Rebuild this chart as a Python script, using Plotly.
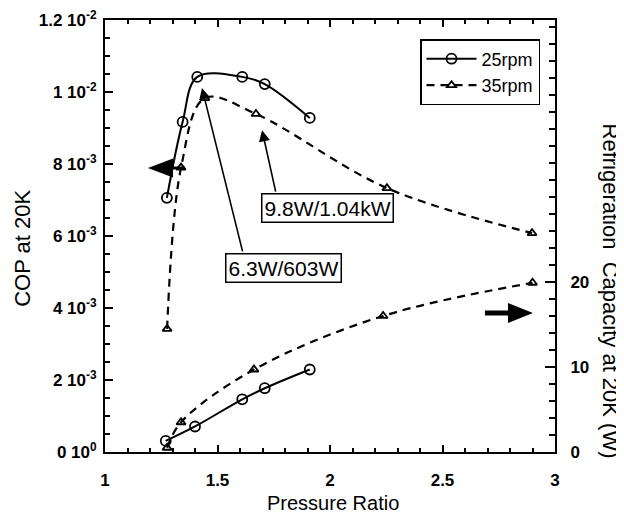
import plotly.graph_objects as go

# ---- data ----
pr_25_cop = [1.275, 1.345, 1.41, 1.61, 1.71, 1.91]
cop_25 = [7.06e-3, 9.17e-3, 1.042e-2, 1.042e-2, 1.022e-2, 9.28e-3]

pr_35_cop = [1.276, 1.338, 1.444, 1.671, 2.253, 2.898]
cop_35 = [3.42e-3, 7.9e-3, 9.83e-3, 9.39e-3, 7.33e-3, 6.08e-3]

pr_25_cap = [1.27, 1.40, 1.61, 1.71, 1.91]
cap_25 = [1.3, 3.0, 6.2, 7.5, 9.7]

pr_35_cap = [1.276, 1.338, 1.662, 2.236, 2.90]
cap_35 = [0.5, 3.5, 9.7, 16.0, 19.9]

cop_tickvals = [0, 2e-3, 4e-3, 6e-3, 8e-3, 1e-2, 1.2e-2]
cop_ticktext = ["0 10<sup>0</sup>", "2 10<sup>-3</sup>", "4 10<sup>-3</sup>", "6 10<sup>-3</sup>",
                "8 10<sup>-3</sup>", "1 10<sup>-2</sup>", "1.2 10<sup>-2</sup>"]
cap_tickvals = [0, 10, 20]
x_tickvals = [1, 1.5, 2, 2.5, 3]
x_ticktext = ["1", "1.5", "2", "2.5", "3"]

FONT = "Liberation Sans"
BLACK = "black"

fig = go.Figure()

solid = dict(color=BLACK, width=2, shape="spline", smoothing=1.0)
dashed = dict(color=BLACK, width=2.2, shape="spline", smoothing=1.0, dash="8px,6px")
circ = dict(symbol="circle-open", size=10, color=BLACK, line=dict(width=1.8, color=BLACK))
tri = dict(symbol="triangle-up-open", size=8, color=BLACK, line=dict(width=1.8, color=BLACK))

fig.add_trace(go.Scatter(x=pr_25_cop, y=cop_25, mode="lines+markers", name="25rpm",
                         line=solid, marker=circ))
fig.add_trace(go.Scatter(x=pr_35_cop, y=cop_35, mode="lines+markers", name="35rpm",
                         line=dashed, marker=tri))
fig.add_trace(go.Scatter(x=pr_25_cap, y=cap_25, mode="lines+markers", name="25rpm",
                         line=solid, marker=circ, yaxis="y2", showlegend=False))
fig.add_trace(go.Scatter(x=pr_35_cap, y=cap_35, mode="lines+markers", name="35rpm",
                         line=dashed, marker=tri, yaxis="y2", showlegend=False))

tickfont = dict(family=FONT, size=17, color=BLACK, weight="bold")

# the page body adds an 8px offset; the figure is sized so the plot lands where the reference has it
fig.update_layout(
    width=616, height=506,
    margin=dict(l=97, r=69, t=12, b=62),
    paper_bgcolor="white", plot_bgcolor="white",
    showlegend=True,
    legend=dict(x=0.70, y=0.956, xanchor="left", yanchor="top",
                bordercolor=BLACK, borderwidth=1.5, bgcolor="white",
                font=dict(family=FONT, size=18, color=BLACK),
                itemwidth=50, tracegroupgap=0),
    xaxis=dict(range=[1, 3], tickvals=x_tickvals, ticktext=x_ticktext,
               ticks="inside", ticklen=7, tickwidth=1.5, tickcolor=BLACK,
               minor=dict(dtick=0.1, ticks="inside", ticklen=4, tickwidth=1.5, tickcolor=BLACK),
               showline=True, linecolor=BLACK, linewidth=2, mirror="ticks",
               showgrid=False, zeroline=False, tickfont=tickfont, ticklabelstandoff=12,
               automargin=False, ticklabeloverflow="allow"),
    yaxis=dict(range=[0, 0.012], tickvals=cop_tickvals, ticktext=cop_ticktext,
               ticks="inside", ticklen=8, tickwidth=1.5, tickcolor=BLACK,
               minor=dict(dtick=0.5e-3, tick0=0, ticks="inside", ticklen=5, tickwidth=1.5, tickcolor=BLACK),
               showline=True, linecolor=BLACK, linewidth=2,
               showgrid=False, zeroline=False, tickfont=tickfont, ticklabelstandoff=3,
               automargin=False, ticklabeloverflow="allow"),
    yaxis2=dict(range=[0, 50.8], overlaying="y", side="right", tickvals=cap_tickvals,
                ticks="inside", ticklen=10, tickwidth=1.5, tickcolor=BLACK,
                minor=dict(dtick=2, tick0=0, ticks="inside", ticklen=6, tickwidth=1.5, tickcolor=BLACK),
                showline=True, linecolor=BLACK, linewidth=2,
                showgrid=False, zeroline=False, tickfont=tickfont, ticklabelstandoff=10,
                automargin=False, ticklabeloverflow="allow"),
)

# axis titles
fig.add_annotation(text="Pressure Ratio", xref="paper", yref="paper", x=0.507, y=-0.118,
                   showarrow=False, font=dict(family=FONT, size=20, color=BLACK),
                   xanchor="center", yanchor="middle")
fig.add_annotation(text="COP at 20K", xref="paper", yref="paper", x=-0.185, y=0.472,
                   showarrow=False, textangle=-90, font=dict(family=FONT, size=22, color=BLACK),
                   xanchor="center", yanchor="middle")
fig.add_annotation(text="Refrigeration  Capacity at 20K (W)", xref="paper", yref="paper",
                   x=1.123, y=0.373, showarrow=False, textangle=90,
                   font=dict(family=FONT, size=22, color=BLACK),
                   xanchor="center", yanchor="middle")

# labelled boxes
box_font = dict(family=FONT, size=21, color=BLACK)
fig.add_annotation(text="9.8W/1.04kW", x=1.99, y=6.79e-3, xref="x", yref="y", showarrow=False,
                   font=box_font, bordercolor=BLACK, borderwidth=1.5, borderpad=2, bgcolor="white")
fig.add_annotation(text="6.3W/603W", x=1.795, y=5.10e-3, xref="x", yref="y", showarrow=False,
                   font=box_font, bordercolor=BLACK, borderwidth=1.5, borderpad=2, bgcolor="white")

# pointer arrows from boxes
fig.add_annotation(text="", x=1.698, y=8.94e-3, ax=1.76, ay=7.19e-3, xref="x", yref="y",
                   axref="x", ayref="y", showarrow=True, arrowhead=2, arrowsize=1.4,
                   arrowwidth=1.6, arrowcolor=BLACK, standoff=0)
fig.add_annotation(text="", x=1.431, y=1.011e-2, ax=1.613, ay=5.53e-3, xref="x", yref="y",
                   axref="x", ayref="y", showarrow=True, arrowhead=2, arrowsize=1.4,
                   arrowwidth=1.6, arrowcolor=BLACK, standoff=0)

# big axis-indicator arrows
fig.add_shape(type="path", xref="x", yref="y", xsizemode="pixel", ysizemode="pixel",
              xanchor=1.191, yanchor=7.89e-3,
              path="M0,0 L25,9.5 L25,1.5 L37,1.5 L37,-1.5 L25,-1.5 L25,-9.5 Z",
              fillcolor=BLACK, line=dict(width=0))
fig.add_shape(type="path", xref="x", yref="y", xsizemode="pixel", ysizemode="pixel",
              xanchor=2.902, yanchor=3.86e-3,
              path="M0,0 L-25,10 L-25,2.5 L-48,2.5 L-48,-2.5 L-25,-2.5 L-25,-10 Z",
              fillcolor=BLACK, line=dict(width=0))

fig.write_html("out.html")
